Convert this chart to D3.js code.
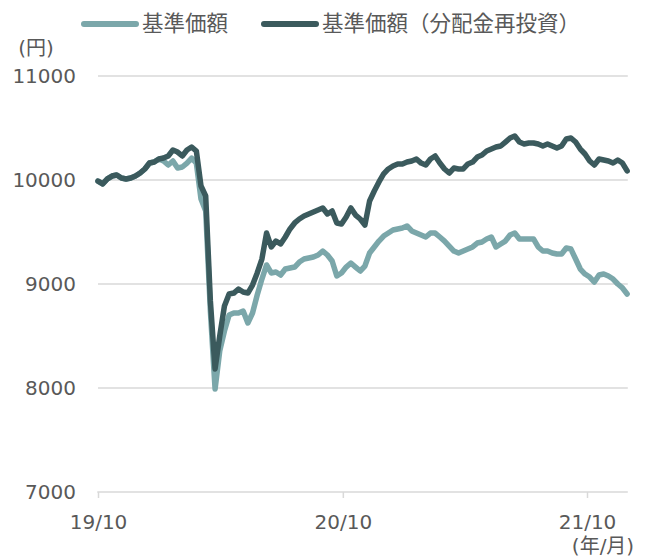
<!DOCTYPE html>
<html>
<head>
<meta charset="utf-8">
<script src="https://cdn.jsdelivr.net/npm/d3@7"></script>
<style>
  body { margin: 0; background: #fff; }
  svg text { fill: #595959; }
</style>
</head>
<body>
<svg id="chart" width="653" height="559"></svg>
<script>
// weekly observations, first one on 2019-10-01
var dates = d3.utcDay.range(new Date(Date.UTC(2019, 9, 1)), new Date(Date.UTC(2021, 11, 1)), 7);

// 基準価額（分配金再投資）
var navReinvested = [
  9990, 9962, 10010, 10038, 10048, 10019, 10010, 10019, 10038, 10067,
  10106, 10163, 10173, 10202, 10211, 10231, 10288, 10269, 10231, 10288,
  10317, 10279, 9942, 9846, 8837, 8183, 8500, 8788, 8904, 8913,
  8952, 8923, 8913, 8990, 9106, 9240, 9490, 9356, 9413, 9385,
  9452, 9529, 9587, 9625, 9654, 9673, 9692, 9711, 9731, 9673,
  9702, 9587, 9577, 9644, 9731, 9663, 9625, 9567, 9798, 9894,
  9981, 10058, 10106, 10135, 10154, 10154, 10173, 10183, 10202, 10163,
  10144, 10202, 10231, 10163, 10106, 10067, 10115, 10106, 10106, 10154,
  10173, 10221, 10240, 10279, 10298, 10317, 10327, 10365, 10404, 10423,
  10365, 10346, 10356, 10356, 10346, 10327, 10346, 10327, 10308, 10327,
  10394, 10404, 10365, 10298, 10250, 10183, 10144, 10202, 10192, 10183,
  10163, 10192, 10163, 10087
];

// 基準価額
var nav = [
  9990, 9962, 10010, 10038, 10048, 10019, 10010, 10019, 10038, 10067,
  10106, 10163, 10173, 10202, 10183, 10144, 10183, 10115, 10125, 10163,
  10211, 10163, 9817, 9702, 8740, 7990, 8356, 8548, 8702, 8721,
  8721, 8740, 8625, 8721, 8894, 9048, 9183, 9106, 9115, 9086,
  9144, 9154, 9163, 9211, 9240, 9250, 9260, 9279, 9317, 9279,
  9221, 9077, 9106, 9163, 9202, 9163, 9125, 9173, 9298, 9356,
  9413, 9461, 9490, 9519, 9529, 9538, 9558, 9510, 9490, 9471,
  9452, 9490, 9490, 9452, 9413, 9365, 9317, 9298, 9317, 9336,
  9356, 9394, 9404, 9433, 9452, 9356, 9385, 9413, 9471, 9490,
  9433, 9433, 9433, 9433, 9356, 9317, 9317, 9298, 9288, 9288,
  9346, 9336, 9240, 9144, 9096, 9067, 9019, 9086, 9096, 9077,
  9048, 9000, 8962, 8904
];

var yTicks = [7000, 8000, 9000, 10000, 11000];
var xTicks = ["2019-10-01", "2020-10-01", "2021-10-01"];
var xTickLabels = ["19/10", "20/10", "21/10"];
var seriesNames = ["基準価額", "基準価額（分配金再投資）"];
var seriesColors = ["#7ba7aa", "#3b5a5d"];

var svg = d3.select("#chart");
var numFont = "'DejaVu Sans', 'Noto Sans CJK JP', sans-serif";
var jpFont = "'Noto Sans CJK JP', sans-serif";

var x = d3.scaleUtc()
    .domain([new Date(Date.UTC(2019, 9, 1)), new Date(Date.UTC(2021, 9, 1))])
    .range([98, 587]);
var xEnd = new Date(Date.UTC(2021, 11, 1));

var y = d3.scaleLinear().domain([7000, 11000]).range([492, 76]);

// grid
svg.append("g").selectAll("line")
    .data(yTicks.slice(1))
    .enter().append("line")
    .attr("x1", x.range()[0]).attr("x2", x(xEnd))
    .attr("y1", function(d) { return y(d); })
    .attr("y2", function(d) { return y(d); })
    .attr("stroke", "#d9d9d9")
    .attr("stroke-width", 1.5);

// y labels
var yAxis = svg.append("g")
    .attr("transform", "translate(" + x.range()[0] + ",0)")
    .call(d3.axisLeft(y).tickValues(yTicks).tickSize(0).tickPadding(22).tickFormat(d3.format("d")));
yAxis.select(".domain").remove();
yAxis.selectAll("text")
    .attr("fill", "#595959")
    .style("font-family", numFont)
    .style("font-size", "20px");

// x axis
var tickDates = xTicks.map(function(s) { return new Date(s + "T00:00:00Z"); });
var xAxis = svg.append("g")
    .attr("transform", "translate(0," + y(7000) + ")")
    .call(d3.axisBottom(x).tickValues(tickDates).tickSize(6).tickPadding(17)
        .tickFormat(function(d, i) { return xTickLabels[i]; }));
xAxis.select(".domain").remove();
xAxis.selectAll(".tick line").attr("stroke", "#d9d9d9").attr("stroke-width", 1.5);
xAxis.selectAll("text")
    .attr("fill", "#595959")
    .style("font-family", numFont)
    .style("font-size", "20px");
svg.append("line")
    .attr("x1", x.range()[0] - 0.75).attr("x2", x(xEnd))
    .attr("y1", y(7000)).attr("y2", y(7000))
    .attr("stroke", "#d9d9d9")
    .attr("stroke-width", 1.5);

// lines
var line = d3.line()
    .x(function(d, i) { return x(dates[i]); })
    .y(function(d) { return y(d); });

[nav, navReinvested].forEach(function(vals, k) {
    svg.append("path")
        .datum(vals)
        .attr("d", line)
        .attr("fill", "none")
        .attr("stroke", seriesColors[k])
        .attr("stroke-width", 5.5)
        .attr("stroke-linejoin", "round")
        .attr("stroke-linecap", "round");
});

// legend
var legendX = [82, 262];
seriesNames.forEach(function(name, k) {
    svg.append("line")
        .attr("x1", legendX[k] + 2).attr("x2", legendX[k] + 54)
        .attr("y1", 24).attr("y2", 24)
        .attr("stroke", seriesColors[k])
        .attr("stroke-width", 6)
        .attr("stroke-linecap", "round");
    svg.append("text")
        .attr("x", legendX[k] + 60).attr("y", 31)
        .style("font-family", jpFont)
        .style("font-size", "21.5px")
        .text(name);
});

// unit labels
svg.append("text")
    .attr("x", 36).attr("y", 55)
    .attr("text-anchor", "middle")
    .style("font-family", numFont)
    .style("font-size", "20px")
    .text("(円)");
svg.append("text")
    .attr("x", 603).attr("y", 553)
    .attr("text-anchor", "middle")
    .style("font-family", numFont)
    .style("font-size", "20px")
    .text("(年/月)");
</script>
</body>
</html>
